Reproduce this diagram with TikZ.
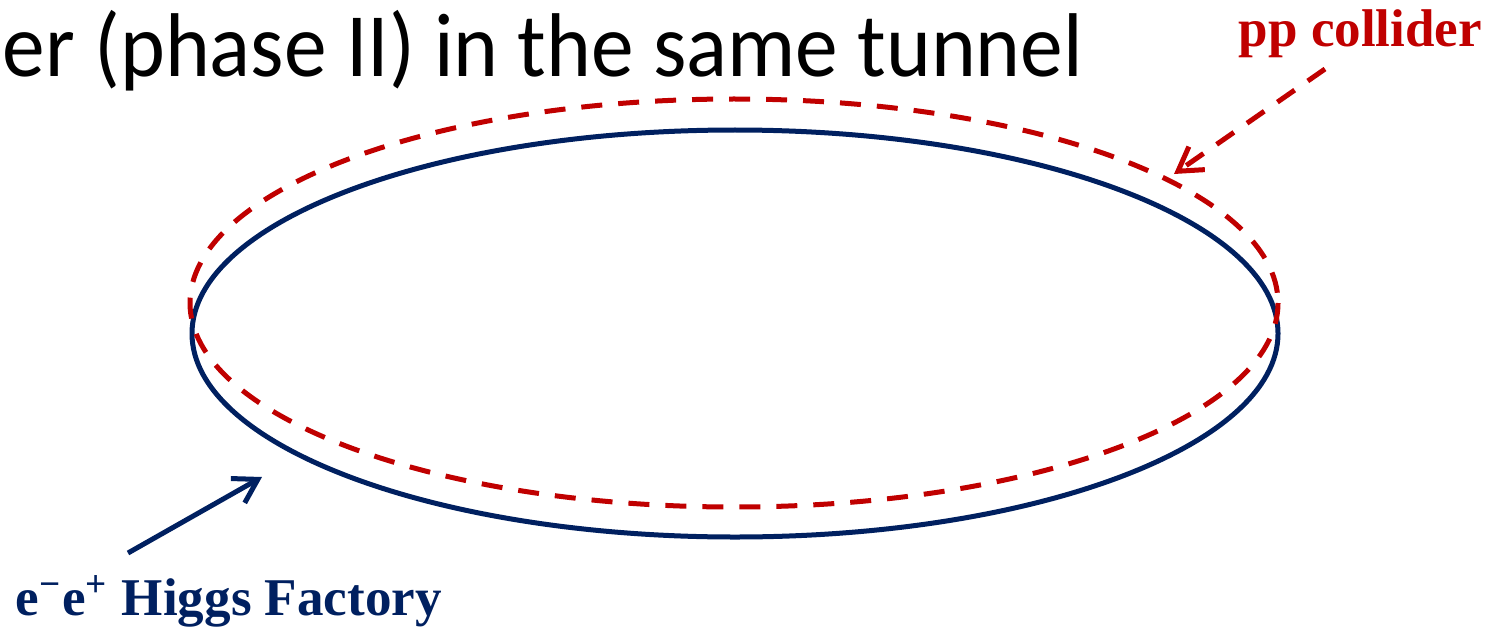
\documentclass[tikz,border=0pt]{standalone}
\usepackage{fontspec}
\setmainfont{Liberation Serif}
\newfontfamily\slidefont{Carlito}
\usetikzlibrary{arrows.meta}
\definecolor{ringblue}{HTML}{002060}
\definecolor{ringred}{HTML}{C00000}

\begin{document}
\begin{tikzpicture}[x=0.1mm,y=-0.1mm,>={Straight Barb[length=2.3mm,width=2.8mm]}]
  \useasboundingbox (0,0) rectangle (1498,626);
  \tikzset{ring/.style={line width=0.5mm},
    ringlabel/.style={font=\bfseries\fontsize{15.1}{18}\selectfont, inner sep=0pt}}
  % title line, cut at the left edge
  \node[anchor=base west, inner sep=0pt, yscale=1.06, font=\slidefont\fontsize{24.3}{28}\selectfont] (title) at (2,77) {er (phase II) in the same tunnel};
  % the two rings
  \draw[ring, ringblue] (735,333.5) ellipse [x radius=543, y radius=203.5];
  \draw[ring, ringred, dash pattern=on 2.1mm off 1.6mm] (734,303) ellipse [x radius=544, y radius=204];
  % labels
  \node[ringlabel, ringred, anchor=base west] (pp) at (1238,47) {pp collider};
  \node[ringlabel, ringblue, anchor=base west] (ee) at (15,615) {e\textsuperscript{\char"2212}e\textsuperscript{+} Higgs Factory};
  \coordinate (pptail) at (1325,69);
  \coordinate (pptip) at (1174,174);
  \coordinate (eetail) at (128,553);
  \coordinate (eetip) at (262,477);
  \draw[ring, ringred, dash pattern=on 2.1mm off 1.6mm, ->] (pptail) -- (pptip);
  \draw[ring, ringblue, ->] (eetail) -- (eetip);
\end{tikzpicture}
\end{document}
